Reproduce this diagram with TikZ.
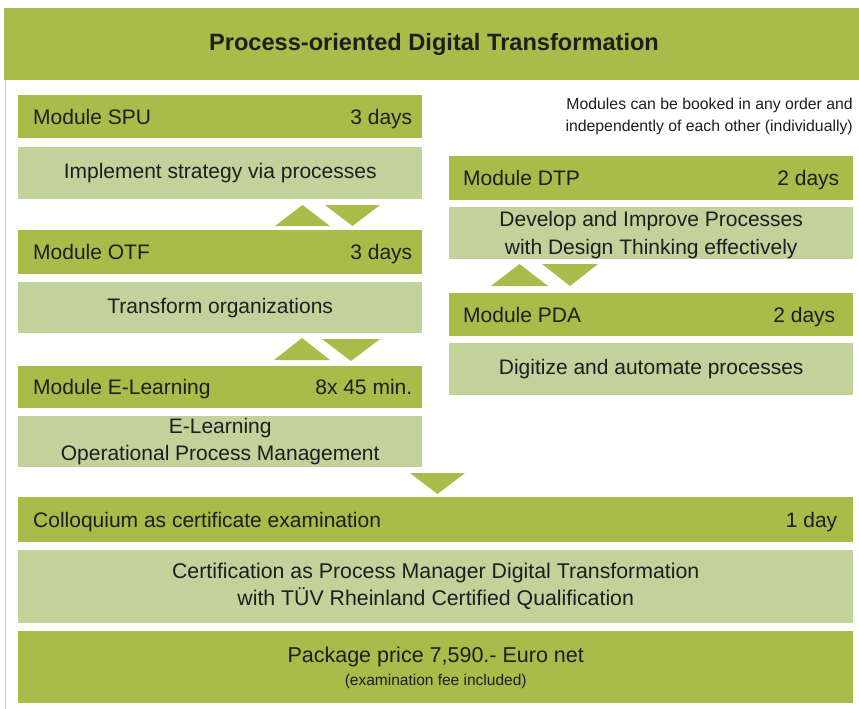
\documentclass[tikz,border=0pt]{standalone}
\usepackage{fontspec}
\setmainfont{Liberation Sans}
\definecolor{dgreen}{HTML}{A9BB48}
\definecolor{lgreen}{HTML}{C1D29B}
\definecolor{txt}{HTML}{1E1E1E}
\tikzset{
  hbar/.style={fill=dgreen, draw=none, inner sep=0pt, anchor=north west},
  dbar/.style={fill=lgreen, draw=none, inner sep=0pt, anchor=north west},
  lbl/.style={text=txt, font=\fontsize{21}{24}\selectfont, inner sep=0pt},
  lft/.style={lbl, anchor=base west},
  rgt/.style={lbl, anchor=base east},
  tri/.style={fill=dgreen, draw=none},
}
\begin{document}
\begin{tikzpicture}[x=1pt,y=-1pt]
\useasboundingbox (0,0) rectangle (859,709);
\fill[white] (0,0) rectangle (859,709);
% header
\node[hbar, minimum width=855pt, minimum height=72pt] (head) at (4,8) {};
\node[text=txt, font=\bfseries\fontsize{23.6}{26}\selectfont, inner sep=0pt] (title) at (434,44) {Process-oriented Digital Transformation};
\draw[lgreen, line width=1.5pt] (head.south west) ++(1.5,0) coordinate (lb) -- (lb |- 0,709) coordinate (lbe);
% left column
\node[hbar, minimum width=404pt, minimum height=43pt] (spuH) at (18,95) {};
\node[lft] (spuL) at ([xshift=15pt,yshift=-7.5pt]spuH.west) {Module SPU};
\node[rgt] (spuR) at ([xshift=-10pt,yshift=-7.5pt]spuH.east) {3 days};
\node[dbar, minimum width=404pt, minimum height=52pt] (spuD) at (18,147) {};
\node[lbl] (spuT) at (spuD.center) {Implement strategy via processes};
\fill[tri] (275,226) -- (302.5,205) -- (330,226) -- cycle;
\fill[tri] (325,205) -- (380,205) -- (352.5,226) -- cycle;
\node[hbar, minimum width=404pt, minimum height=44pt] (otfH) at (18,230) {};
\node[lft] (otfL) at ([xshift=15pt,yshift=-7.5pt]otfH.west) {Module OTF};
\node[rgt] (otfR) at ([xshift=-10pt,yshift=-7.5pt]otfH.east) {3 days};
\node[dbar, minimum width=404pt, minimum height=51pt] (otfD) at (18,282) {};
\node[lbl] (otfT) at (otfD.center) {Transform organizations};
\fill[tri] (274,360) -- (302,338) -- (330,360) -- cycle;
\fill[tri] (322,339) -- (380,339) -- (351,361) -- cycle;
\node[hbar, minimum width=404pt, minimum height=42pt] (elH) at (18,366) {};
\node[lft] (elL) at ([xshift=15pt,yshift=-7.5pt]elH.west) {Module E-Learning};
\node[rgt] (elR) at ([xshift=-10pt,yshift=-7.5pt]elH.east) {8x 45 min.};
\node[dbar, minimum width=404pt, minimum height=51pt] (elD) at (18,416) {};
\node[lbl, align=center, font=\fontsize{21}{27}\selectfont] (elT) at (elD.center) {E-Learning\\Operational Process Management};
\fill[tri] (410,473) -- (465,473) -- (437.5,494) -- cycle;
% right column
\node[text=txt, font=\fontsize{15.8}{22}\selectfont, align=right, anchor=east, inner sep=0pt] (note) at (853,116) {Modules can be booked in any order and\\independently of each other (individually)};
\node[hbar, minimum width=404pt, minimum height=44pt] (dtpH) at (449,156) {};
\node[lft] (dtpL) at ([xshift=14pt,yshift=-7.5pt]dtpH.west) {Module DTP};
\node[rgt] (dtpR) at ([xshift=-14pt,yshift=-7.5pt]dtpH.east) {2 days};
\node[dbar, minimum width=404pt, minimum height=52pt] (dtpD) at (449,207) {};
\node[lbl, align=center, font=\fontsize{21}{28}\selectfont] (dtpT) at ([yshift=-1.5pt]dtpD.center) {Develop and Improve Processes\\with Design Thinking effectively};
\fill[tri] (491,286) -- (519.5,264) -- (548,286) -- cycle;
\fill[tri] (542,264) -- (598,264) -- (570,286) -- cycle;
\node[hbar, minimum width=404pt, minimum height=43pt] (pdaH) at (449,293) {};
\node[lft] (pdaL) at ([xshift=14pt,yshift=-7.5pt]pdaH.west) {Module PDA};
\node[rgt] (pdaR) at ([xshift=-18pt,yshift=-7.5pt]pdaH.east) {2 days};
\node[dbar, minimum width=404pt, minimum height=52pt] (pdaD) at (449,343) {};
\node[lbl] (pdaT) at (pdaD.center) {Digitize and automate processes};
% bottom
\node[hbar, minimum width=835pt, minimum height=45pt] (colH) at (18,497) {};
\node[lft] (colL) at ([xshift=15pt,yshift=-7.5pt]colH.west) {Colloquium as certificate examination};
\node[rgt] (colR) at ([xshift=-16pt,yshift=-7.5pt]colH.east) {1 day};
\node[dbar, minimum width=835pt, minimum height=73pt] (cert) at (18,550) {};
\node[lbl, align=center, font=\fontsize{21.3}{27}\selectfont] (certT) at (cert.center) {Certification as Process Manager Digital Transformation\\with TÜV Rheinland Certified Qualification};
\node[hbar, minimum width=835pt, minimum height=72pt] (pkg) at (18,631) {};
\node[lbl, font=\fontsize{21.5}{24}\selectfont] (pkgT) at ([yshift=10pt]pkg.center) {Package price 7,590.- Euro net};
\node[text=txt, font=\fontsize{15.5}{17}\selectfont, inner sep=0pt] (pkgS) at ([yshift=-14pt]pkg.center) {(examination fee included)};
\end{tikzpicture}
\end{document}
